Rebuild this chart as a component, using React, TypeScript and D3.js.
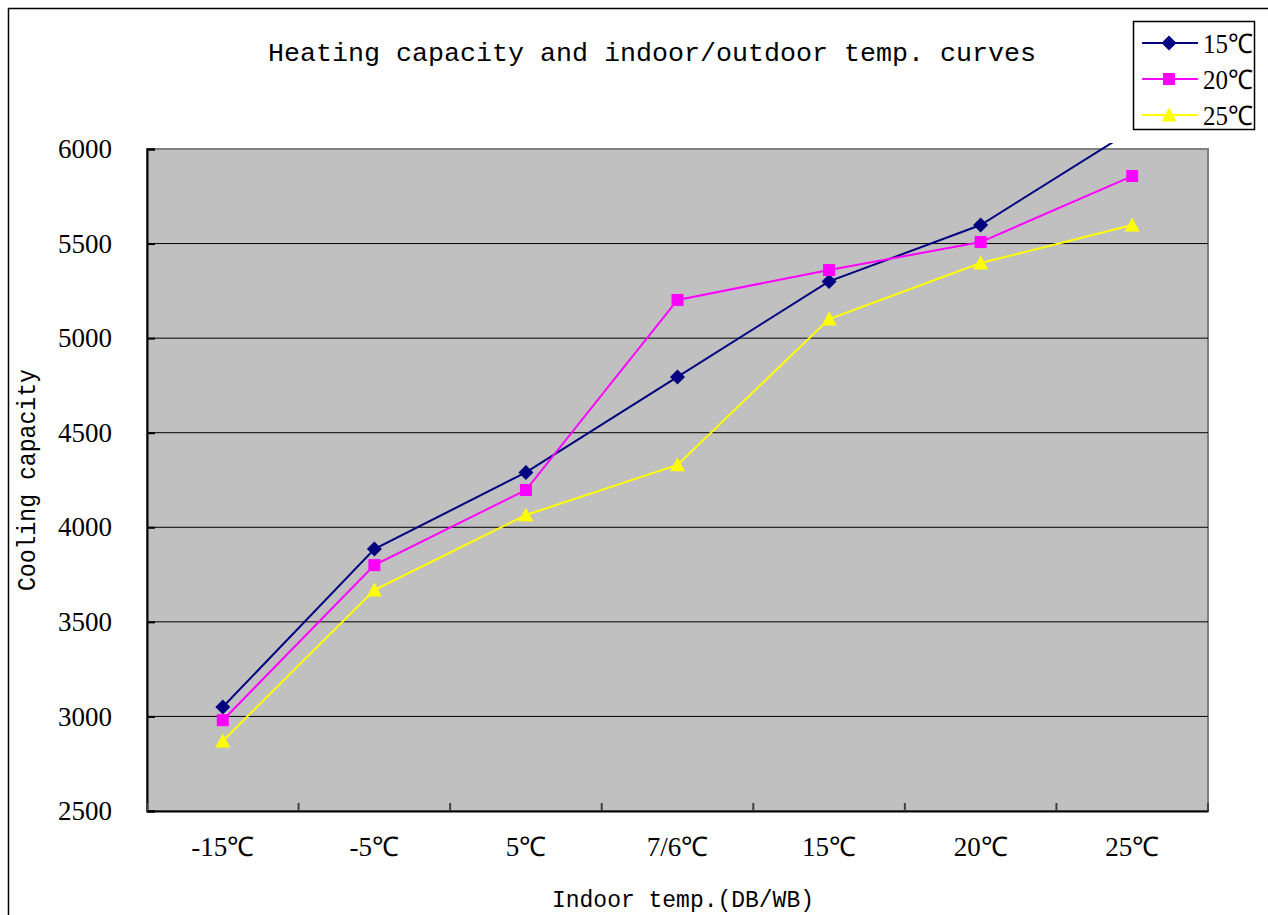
import React, { useRef, useEffect } from "react";
import * as d3 from "d3";

const categories = ["-15℃", "-5℃", "5℃", "7/6℃", "15℃", "20℃", "25℃"];
const seriesNames = ["15℃", "20℃", "25℃"];
const values15 = [3050, 3885, 4290, 4795, 5300, 5598, 6100];
const values20 = [2980, 3800, 4197, 5202, 5360, 5508, 5857];
const values25 = [2870, 3668, 4065, 4330, 5101, 5397, 5598];
const yTicks = [2500, 3000, 3500, 4000, 4500, 5000, 5500, 6000];

const colors = ["#000080", "#FF00FF", "#FFFF00"];

// marker shapes drawn around (0,0)
const markerPath = (i: number) => {
  if (i === 0) return "M0,-7.5L7.5,0L0,7.5L-7.5,0Z";
  if (i === 1) return "M-6,-6H6V6H-6Z";
  return "M0,-7.5L7.5,6.5L-7.5,6.5Z";
};

const App = () => {
  const svgRef = useRef<SVGSVGElement>(null);

  useEffect(() => {
    const svg = d3.select(svgRef.current);
    svg.selectAll("*").remove();

    const W = 1268;
    const H = 915;
    const left = 147, top = 149, right = 1208, bottom = 811;
    const serif = "'Liberation Serif', serif";
    const mono = "'Liberation Mono', monospace";

    // outer chart frame
    svg.append("rect").attr("x", 8.5).attr("y", 8.5).attr("width", W).attr("height", H)
      .attr("fill", "#fff").attr("stroke", "#000").attr("stroke-width", 1.5);

    const x = d3.scaleBand().domain(categories).range([left, right]).padding(0);
    const y = d3.scaleLinear().domain([2500, 6000]).range([bottom, top]);

    // plot area
    svg.append("rect").attr("x", left).attr("y", top).attr("width", right - left).attr("height", bottom - top)
      .attr("fill", "#C0C0C0").attr("stroke", "#808080").attr("stroke-width", 2);

    // gridlines
    svg.append("g").selectAll("line").data(yTicks.filter(t => t > 2500 && t < 6000)).enter().append("line")
      .attr("x1", left).attr("x2", right).attr("y1", d => y(d)).attr("y2", d => y(d))
      .attr("stroke", "#000").attr("stroke-width", 1);

    // y axis
    const yAxis = svg.append("g").attr("transform", `translate(${left},0)`)
      .call(d3.axisLeft(y).tickValues(yTicks).tickSize(-8).tickPadding(35).tickFormat(d3.format("d")));
    yAxis.select(".domain").attr("stroke", "#000").attr("stroke-width", 2);
    yAxis.selectAll(".tick line").attr("stroke", "#000").attr("stroke-width", 2);
    yAxis.selectAll("text").attr("font-family", serif).attr("font-size", 27).attr("fill", "#000");

    // x axis
    const xAxis = svg.append("g").attr("transform", `translate(0,${bottom})`)
      .call(d3.axisBottom(x).tickSize(0).tickPadding(26));
    xAxis.select(".domain").attr("stroke", "#000").attr("stroke-width", 2);
    xAxis.selectAll("text").attr("font-family", serif).attr("font-size", 27).attr("fill", "#000");
    const boundaries = categories.map(c => x(c) as number).concat([right]);
    svg.append("g").selectAll("line").data(boundaries).enter().append("line")
      .attr("x1", d => d).attr("x2", d => d).attr("y1", bottom).attr("y2", bottom - 8)
      .attr("stroke", "#404040").attr("stroke-width", 2);

    // series
    svg.append("defs").append("clipPath").attr("id", "plotClip").append("rect")
      .attr("x", left - 10).attr("y", top - 6).attr("width", right - left + 20).attr("height", bottom - top + 16);

    const allSeries = [values15, values20, values25];
    const cx = (i: number) => (x(categories[i]) as number) + x.bandwidth() / 2;
    const line = d3.line<number>().x((_, i) => cx(i)).y(d => y(d));
    const sg = svg.append("g").attr("clip-path", "url(#plotClip)");
    allSeries.forEach((vals, si) => {
      sg.append("path").datum(vals).attr("d", line).attr("fill", "none")
        .attr("stroke", colors[si]).attr("stroke-width", 2);
    });
    allSeries.forEach((vals, si) => {
      sg.selectAll(`.m${si}`).data(vals).enter().append("path")
        .attr("transform", (d, i) => `translate(${cx(i)},${y(d)})`)
        .attr("d", markerPath(si))
        .attr("fill", colors[si]);
    });

    // title
    svg.append("text").attr("x", 652).attr("y", 61).attr("text-anchor", "middle")
      .attr("font-family", mono).attr("font-size", 25).attr("textLength", 768).attr("lengthAdjust", "spacingAndGlyphs")
      .text("Heating capacity and indoor/outdoor temp. curves");

    // axis titles
    svg.append("text").attr("x", 683).attr("y", 907).attr("text-anchor", "middle")
      .attr("font-family", mono).attr("font-size", 24).attr("textLength", 262).attr("lengthAdjust", "spacingAndGlyphs")
      .text("Indoor temp.(DB/WB)");
    svg.append("text").attr("transform", "translate(35,480) rotate(-90)").attr("text-anchor", "middle")
      .attr("font-family", mono).attr("font-size", 25).attr("textLength", 222).attr("lengthAdjust", "spacingAndGlyphs")
      .text("Cooling capacity");

    // legend
    const lg = svg.append("g");
    lg.append("rect").attr("x", 1133.5).attr("y", 21.5).attr("width", 121).attr("height", 108)
      .attr("fill", "#fff").attr("stroke", "#000").attr("stroke-width", 1.5);
    seriesNames.forEach((name, i) => {
      const cy = 43 + i * 36;
      lg.append("line").attr("x1", 1142).attr("x2", 1198).attr("y1", cy).attr("y2", cy)
        .attr("stroke", colors[i]).attr("stroke-width", 2);
      lg.append("path").attr("transform", `translate(1169,${cy})`)
        .attr("d", markerPath(i)).attr("fill", colors[i]);
      lg.append("text").attr("x", 1203).attr("y", cy + 10).attr("font-family", serif).attr("font-size", 27)
        .attr("textLength", 50).attr("lengthAdjust", "spacingAndGlyphs")
        .text(name);
    });
  }, []);

  return <svg ref={svgRef} width={1268} height={915} style={{ position: "absolute", left: 0, top: 0 }}></svg>;
};

export default App;
